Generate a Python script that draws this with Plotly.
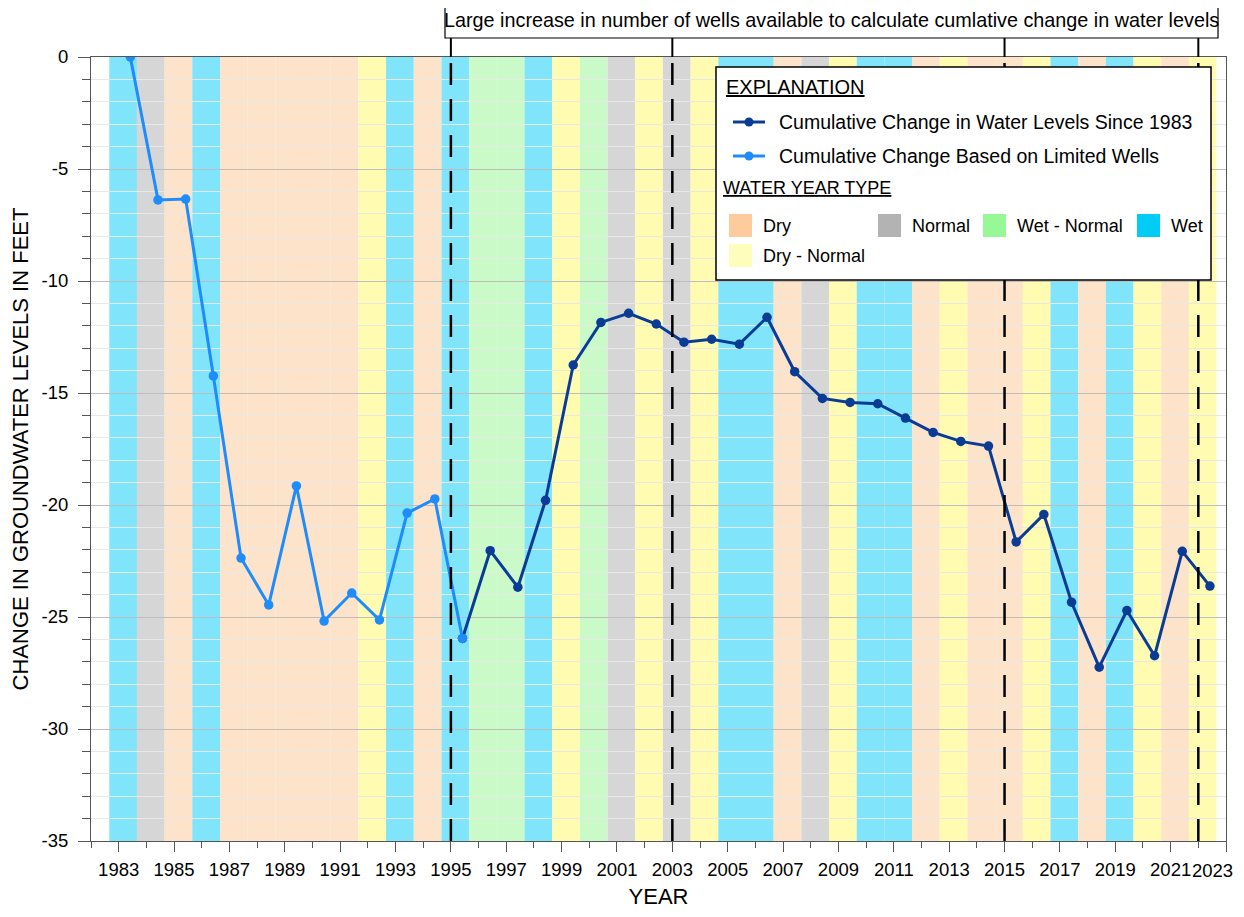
import plotly.graph_objects as go

# ---------------- data ----------------
limited_years = [1983, 1984, 1985, 1986, 1987, 1988, 1989, 1990, 1991, 1992, 1993, 1994, 1995]
limited_change = [0.0, -6.38, -6.34, -14.24, -22.37, -24.46, -19.15, -25.18, -23.93, -25.13,
                  -20.36, -19.73, -25.96]

full_years = [1995, 1996, 1997, 1998, 1999, 2000, 2001, 2002, 2003, 2004, 2005, 2006, 2007,
              2008, 2009, 2010, 2011, 2012, 2013, 2014, 2015, 2016, 2017, 2018, 2019, 2020,
              2021, 2022]
full_change = [-25.96, -22.04, -23.67, -19.79, -13.75, -11.85, -11.44, -11.92, -12.73, -12.60,
               -12.82, -11.62, -14.05, -15.24, -15.42, -15.48, -16.12, -16.76, -17.16, -17.37,
               -21.65, -20.42, -24.34, -27.24, -24.71, -26.73, -22.07, -23.62]

water_years = list(range(1983, 2023))
water_year_types = [
    "Wet", "Normal", "Dry", "Wet", "Dry", "Dry", "Dry", "Dry", "Dry", "Dry - Normal",   # 1983-1992
    "Wet", "Dry", "Wet", "Wet - Normal", "Wet - Normal", "Wet", "Dry - Normal",          # 1993-1999
    "Wet - Normal", "Normal", "Dry - Normal", "Normal", "Dry - Normal", "Wet", "Wet",   # 2000-2006
    "Dry", "Normal", "Dry - Normal", "Wet", "Wet", "Dry", "Dry - Normal", "Dry", "Dry", # 2007-2015
    "Dry - Normal", "Wet", "Dry", "Wet", "Dry - Normal", "Dry", "Dry - Normal",          # 2016-2022
]

dash_years = [1995, 2003, 2015, 2022]

x_tick_vals = list(range(1983, 2024, 2))
x_tick_text = [str(v) for v in x_tick_vals]
last_x_label = x_tick_text[-1]
x_tick_text[-1] = ""        # last label drawn right-aligned at the page edge (see annotations)
y_tick_vals = [0, -5, -10, -15, -20, -25, -30, -35]
y_tick_text = ["0", "-5", "-10", "-15", "-20", "-25", "-30", "-35"]

legend_types_row1 = ["Dry", "Normal", "Wet - Normal", "Wet"]
legend_types_row2 = ["Dry - Normal"]

# ---------------- styles ----------------
MEASURE_OFFSET = 0.42      # spring measurement within the year
BAND_START = -0.34         # water-year band start relative to year
band_colors = {
    "Wet": "#80E4FA",
    "Normal": "#D6D6D6",
    "Dry": "#FDE3C9",
    "Dry - Normal": "#FFFBB1",
    "Wet - Normal": "#C9FAC7",
}
swatch_colors = {
    "Wet": "#00CCF5",
    "Normal": "#B3B3B3",
    "Dry": "#FDCB9C",
    "Dry - Normal": "#FFFDBB",
    "Wet - Normal": "#98F898",
}
DARK = "#0A3C96"
LIGHT = "#1E8CFA"
REG = "Liberation Sans, Arial, sans-serif"

# page has an 8px body margin; figure sized to fit inside the 1244x917 window
OFF = 8
W, H = 1228, 901
ML, MR, MT, MB = 83, 10, 49, 68
PW, PH = W - ML - MR, H - MT - MB


def px(x):
    """screen pixel x -> paper fraction"""
    return (x - OFF - ML) / PW


def py(y):
    """screen pixel y -> paper fraction"""
    return (H - MB - (y - OFF)) / PH


fig = go.Figure()

fig.add_trace(go.Scatter(
    x=[y + MEASURE_OFFSET for y in full_years], y=full_change,
    mode="lines+markers", line=dict(color=DARK, width=3),
    marker=dict(color=DARK, size=9.5), showlegend=False,
    name="Cumulative Change in Water Levels Since 1983"))
fig.add_trace(go.Scatter(
    x=[y + MEASURE_OFFSET for y in limited_years], y=limited_change,
    mode="lines+markers", line=dict(color=LIGHT, width=3),
    marker=dict(color=LIGHT, size=9.5), showlegend=False,
    name="Cumulative Change Based on Limited Wells"))

shapes = []
# water-year bands
for yr, t in zip(water_years, water_year_types):
    shapes.append(dict(type="rect", xref="x", yref="paper",
                       x0=yr + BAND_START, x1=yr + BAND_START + 1, y0=0, y1=1,
                       fillcolor=band_colors[t], line=dict(width=0), layer="below"))

# dashed vertical lines and solid connectors to the box
for yr in dash_years:
    shapes.append(dict(type="line", xref="x", yref="y", x0=yr, x1=yr, y0=-35, y1=0,
                       line=dict(color="black", width=2.5, dash="22px,14px"), layer="above"))
    shapes.append(dict(type="line", xref="x", yref="paper", x0=yr, x1=yr, y0=1, y1=py(38),
                       line=dict(color="black", width=2), layer="above"))

# top annotation box
shapes.append(dict(type="rect", xref="paper", yref="paper",
                   x0=px(445), x1=px(1218), y0=py(38), y1=py(1),
                   fillcolor="white", line=dict(color="black", width=1.2), layer="above"))

# legend box
shapes.append(dict(type="rect", xref="paper", yref="paper",
                   x0=px(716), x1=px(1211), y0=py(280), y1=py(67),
                   fillcolor="white", line=dict(color="black", width=1.5), layer="above"))

# legend line samples
for yy, col in [(122, DARK), (156, LIGHT)]:
    shapes.append(dict(type="line", xref="paper", yref="paper", x0=px(733), x1=px(765),
                       y0=py(yy), y1=py(yy), line=dict(color=col, width=3), layer="above"))
    shapes.append(dict(type="circle", xref="paper", yref="paper",
                       x0=px(744.5), x1=px(753.5), y0=py(yy + 4.5), y1=py(yy - 4.5),
                       fillcolor=col, line=dict(color=col, width=0), layer="above"))

annotations = []
annotations.append(dict(xref="paper", yref="paper", x=px(832), y=py(20),
                        text="Large increase in number of wells available to calculate cumlative change in water levels",
                        showarrow=False, xanchor="center", yanchor="middle",
                        font=dict(family=REG, size=19.8, color="black")))

annotations.append(dict(xref="paper", yref="paper", x=px(724), y=py(87), text="EXPLANATION",
                        showarrow=False, xanchor="left", yanchor="middle",
                        font=dict(family=REG, size=20, color="black", lineposition="under")))
annotations.append(dict(xref="paper", yref="paper", x=px(777), y=py(122),
                        text="Cumulative Change in Water Levels Since 1983",
                        showarrow=False, xanchor="left", yanchor="middle",
                        font=dict(family=REG, size=19.5, color="black")))
annotations.append(dict(xref="paper", yref="paper", x=px(777), y=py(156),
                        text="Cumulative Change Based on Limited Wells",
                        showarrow=False, xanchor="left", yanchor="middle",
                        font=dict(family=REG, size=19.5, color="black")))
annotations.append(dict(xref="paper", yref="paper", x=px(721), y=py(188), text="WATER YEAR TYPE",
                        showarrow=False, xanchor="left", yanchor="middle",
                        font=dict(family=REG, size=18, color="black", lineposition="under")))

# last x tick label, right-aligned so that it stays inside the page
annotations.append(dict(xref="paper", yref="paper", x=1, xshift=9, y=py(870),
                        text=last_x_label, showarrow=False, xanchor="right", yanchor="middle",
                        font=dict(family=REG, size=18.5, color="black")))

sw_x = [729, 878, 983, 1137]
for i, t in enumerate(legend_types_row1):
    x0 = sw_x[i]
    shapes.append(dict(type="rect", xref="paper", yref="paper", x0=px(x0), x1=px(x0 + 23),
                       y0=py(237), y1=py(214), fillcolor=swatch_colors[t],
                       line=dict(width=0), layer="above"))
    annotations.append(dict(xref="paper", yref="paper", x=px(x0 + 32), y=py(226), text=t,
                            showarrow=False, xanchor="left", yanchor="middle",
                            font=dict(family=REG, size=18, color="black")))
for i, t in enumerate(legend_types_row2):
    x0 = sw_x[i]
    shapes.append(dict(type="rect", xref="paper", yref="paper", x0=px(x0), x1=px(x0 + 23),
                       y0=py(267), y1=py(244), fillcolor=swatch_colors[t],
                       line=dict(width=0), layer="above"))
    annotations.append(dict(xref="paper", yref="paper", x=px(x0 + 32), y=py(256), text=t,
                            showarrow=False, xanchor="left", yanchor="middle",
                            font=dict(family=REG, size=18, color="black")))

fig.update_layout(
    width=W, height=H,
    margin=dict(l=ML, r=MR, t=MT, b=MB, autoexpand=False),
    paper_bgcolor="white", plot_bgcolor="white",
    shapes=shapes, annotations=annotations,
    showlegend=False,
    xaxis=dict(
        range=[1982, 2023], tickmode="array", tickvals=x_tick_vals, ticktext=x_tick_text,
        ticks="outside", ticklen=10, tickwidth=1, tickcolor="#555",
        showline=True, linecolor="#555", linewidth=1, mirror=True,
        showgrid=False, zeroline=False,
        tickfont=dict(family=REG, size=18.5, color="black"),
        ticklabelstandoff=2, ticklabeloverflow="allow",
        minor=dict(dtick=1, tick0=1983, ticks="outside", ticklen=6, tickcolor="#555", showgrid=False),
        title=dict(text="YEAR", font=dict(family=REG, size=22, color="black"), standoff=23),
        automargin=False,
    ),
    yaxis=dict(
        range=[-35, 0], tickmode="array", tickvals=y_tick_vals, ticktext=y_tick_text,
        ticks="outside", ticklen=12, tickwidth=1, tickcolor="#555",
        showline=True, linecolor="#555", linewidth=1, mirror=True,
        showgrid=True, gridcolor="#BDBDBD", gridwidth=1, zeroline=False,
        tickfont=dict(family=REG, size=18.5, color="black"),
        ticklabelstandoff=6,
        minor=dict(dtick=1, tick0=0, ticks="outside", ticklen=8, tickcolor="#555",
                   showgrid=True, gridcolor="#E8E8E8", gridwidth=1),
        title=dict(text="CHANGE IN GROUNDWATER LEVELS IN FEET",
                   font=dict(family=REG, size=22, color="black"), standoff=10),
        automargin=False,
    ),
)

fig.write_html("out.html")
